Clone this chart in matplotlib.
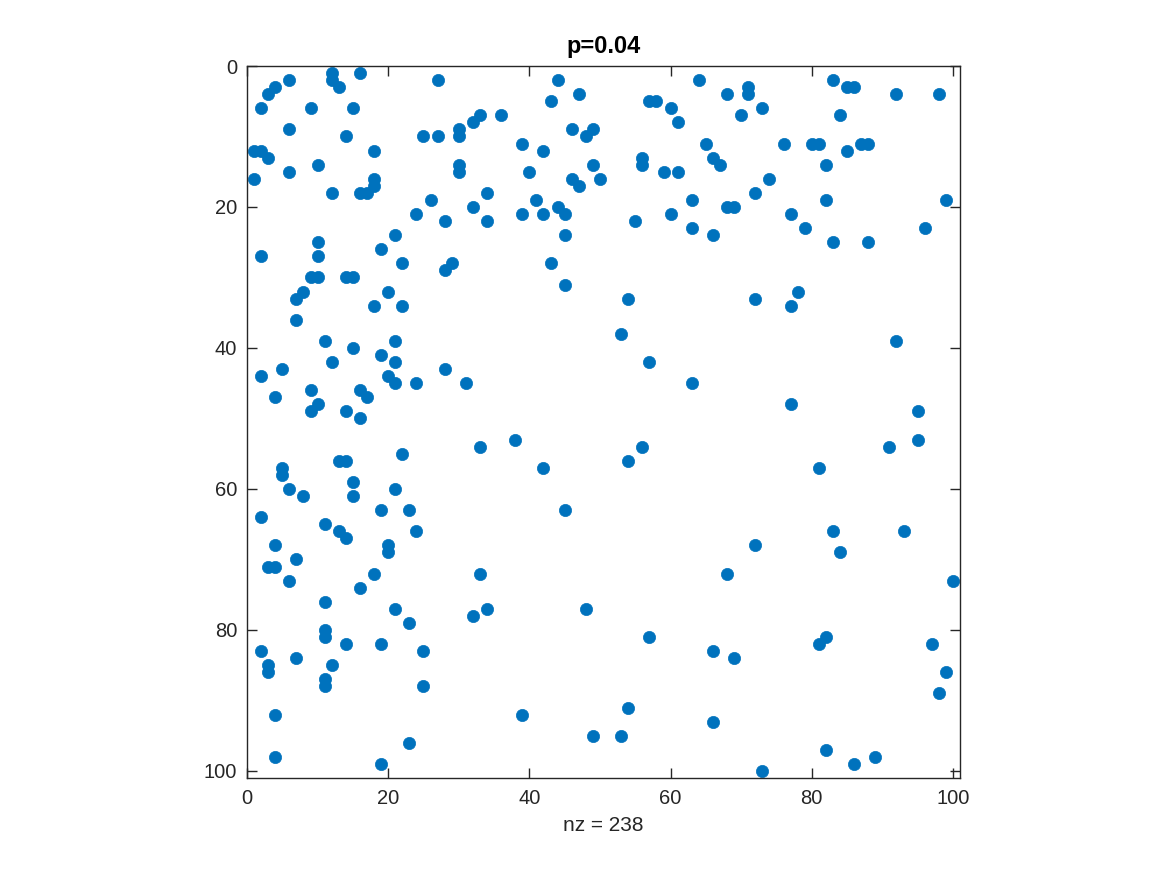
import matplotlib
matplotlib.use("Agg")
import matplotlib.pyplot as plt

# Nonzero positions of the sparse matrix (row, column)
rows = [1, 1,
        2, 2, 2, 2, 2, 2,
        3, 3, 3, 3, 3,
        4, 4, 4, 4, 4, 4,
        5, 5, 5,
        6, 6, 6, 6, 6,
        7, 7, 7, 7,
        8, 8,
        9, 9, 9, 9,
        10, 10, 10, 10, 10,
        11, 11, 11, 11, 11, 11, 11,
        12, 12, 12, 12, 12,
        13, 13, 13,
        14, 14, 14, 14, 14, 14,
        15, 15, 15, 15, 15,
        16, 16, 16, 16, 16,
        17, 17,
        18, 18, 18, 18, 18,
        19, 19, 19, 19, 19,
        20, 20, 20, 20,
        21, 21, 21, 21, 21, 21,
        22, 22, 22,
        23, 23, 23,
        24, 24, 24,
        25, 25, 25,
        26,
        27, 27,
        28, 28, 28,
        29,
        30, 30, 30, 30,
        31,
        32, 32, 32,
        33, 33, 33,
        34, 34, 34,
        36,
        38,
        39, 39, 39,
        40,
        41,
        42, 42, 42,
        43, 43,
        44, 44,
        45, 45, 45, 45,
        46, 46,
        47, 47,
        48, 48,
        49, 49, 49,
        50,
        53, 53,
        54, 54, 54,
        55,
        56, 56, 56,
        57, 57, 57,
        58,
        59,
        60, 60,
        61, 61,
        63, 63, 63,
        64,
        65,
        66, 66, 66, 66,
        67,
        68, 68, 68,
        69, 69,
        70,
        71, 71,
        72, 72, 72,
        73, 73,
        74,
        76,
        77, 77, 77,
        78,
        79,
        80,
        81, 81, 81,
        82, 82, 82, 82,
        83, 83, 83,
        84, 84,
        85, 85,
        86, 86,
        87,
        88, 88,
        89,
        91,
        92, 92,
        93,
        95, 95,
        96,
        97,
        98, 98,
        99, 99,
        100]

cols = [12, 16,
        6, 12, 27, 44, 64, 83,
        4, 13, 71, 85, 86,
        3, 47, 68, 71, 92, 98,
        43, 57, 58,
        2, 9, 15, 60, 73,
        33, 36, 70, 84,
        32, 61,
        6, 30, 46, 49,
        14, 25, 27, 30, 48,
        39, 65, 76, 80, 81, 87, 88,
        1, 2, 18, 42, 85,
        3, 56, 66,
        10, 30, 49, 56, 67, 82,
        6, 30, 40, 59, 61,
        1, 18, 46, 50, 74,
        18, 47,
        12, 16, 17, 34, 72,
        26, 41, 63, 82, 99,
        32, 44, 68, 69,
        24, 39, 42, 45, 60, 77,
        28, 34, 55,
        63, 79, 96,
        21, 45, 66,
        10, 83, 88,
        19,
        2, 10,
        22, 29, 43,
        28,
        9, 10, 14, 15,
        45,
        8, 20, 78,
        7, 54, 72,
        18, 22, 77,
        7,
        53,
        11, 21, 92,
        15,
        19,
        12, 21, 57,
        5, 28,
        2, 20,
        21, 24, 31, 63,
        9, 16,
        4, 17,
        10, 77,
        9, 14, 95,
        16,
        38, 95,
        33, 56, 91,
        22,
        13, 14, 54,
        5, 42, 81,
        5,
        15,
        6, 21,
        8, 15,
        19, 23, 45,
        2,
        11,
        13, 24, 83, 93,
        14,
        4, 20, 72,
        20, 84,
        7,
        3, 4,
        18, 33, 68,
        6, 100,
        16,
        11,
        21, 34, 48,
        32,
        23,
        11,
        11, 57, 82,
        14, 19, 81, 97,
        2, 25, 66,
        7, 69,
        3, 12,
        3, 99,
        11,
        11, 25,
        98,
        54,
        4, 39,
        66,
        49, 53,
        23,
        82,
        4, 89,
        19, 86,
        73]

n = 100
tick_vals = [0, 20, 40, 60, 80, 100]
title_text = "p=0.04"

plt.rcParams['font.family'] = ['Liberation Sans', 'DejaVu Sans']

fig = plt.figure(figsize=(11.67, 8.75), dpi=100)
ax = fig.add_axes([247/1167, (875-778)/875, 713/1167, 712/875])

ax.plot(cols, rows, linestyle='none', marker='o', markersize=8.8,
        markerfacecolor='#0072BD', markeredgecolor='#0072BD', markeredgewidth=0.5)

ax.set_xlim(0, n + 1)
ax.set_ylim(n + 1, 0)
ax.set_xticks(tick_vals)
ax.set_yticks(tick_vals)
ax.tick_params(direction='in', length=7, width=1.0, colors='#262626',
               labelsize=14.5, top=True, right=True, labeltop=False, labelright=False)
ax.tick_params(axis='x', pad=8)
ax.tick_params(axis='y', pad=7)
for s in ax.spines.values():
    s.set_color('#262626')
    s.set_linewidth(1.0)

ax.set_xlabel(f"nz = {len(rows)}", fontsize=15, color='#262626', labelpad=6)
ax.set_title(title_text, fontsize=17, fontweight='bold', color='black', pad=9)

fig.savefig("out.png", dpi=100)
